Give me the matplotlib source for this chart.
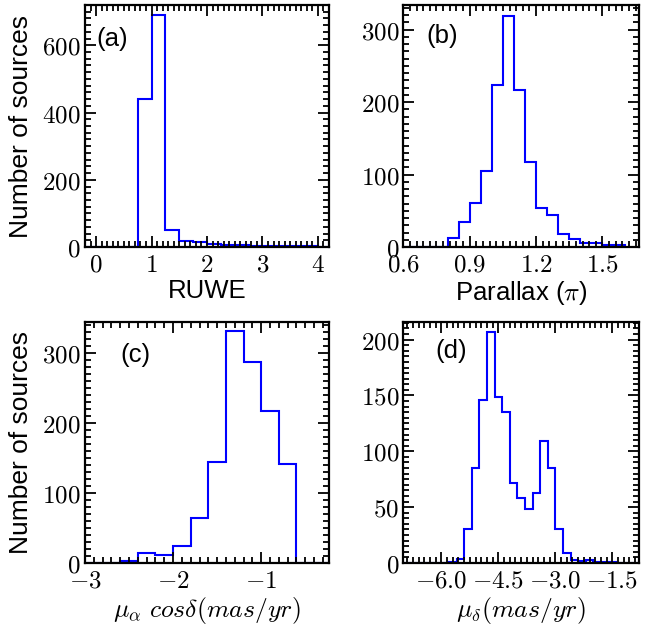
import numpy as np
import matplotlib.pyplot as plt
from matplotlib.ticker import MultipleLocator, FuncFormatter

plt.rcParams['font.family'] = ['Liberation Sans', 'DejaVu Sans']
plt.rcParams['mathtext.fontset'] = 'cm'

# -------------------------------------------------------
# histogram counts (bin start, bin width, counts per bin)
# -------------------------------------------------------
ruwe_start, ruwe_width = -0.25, 0.25
ruwe_counts = [0, 0, 0, 0, 440, 690, 50, 17, 15, 10, 7, 5, 4, 3, 3, 2, 2, 1, 1]

plx_start, plx_width = 0.6, 0.05
plx_counts = [0, 0, 0, 0, 13, 35, 61, 105, 224, 319, 216, 117, 54, 44,
              18, 11, 6, 6, 3, 3]

pmra_start, pmra_width = -3.0, 0.2
pmra_counts = [0, 0, 3, 15, 11, 24, 64, 145, 331, 288, 217, 141, 0, 0, 0]

pmde_start, pmde_width = -7.0, 0.2
pmde_counts = [0, 0, 0, 0, 0, 0, 1, 4, 30, 85, 146, 207, 149, 135, 72, 58,
               48, 63, 109, 85, 30, 9, 3, 2, 3, 1, 1, 1, 0, 0, 0, 0]

panels = [
    # tag, start, width, counts, xlim, ylim, xmaj, xmin, ymaj, ymin, x decimals,
    # xlabel, axes rect in pixels (left, top, right, bottom), tag position
    ("(a)", ruwe_start, ruwe_width, ruwe_counts, (-0.2, 4.2), (0, 720),
     1, 0.1, 200, 20, 0, "RUWE", [85, 5, 329, 247], (0.048, 0.86)),
    ("(b)", plx_start, plx_width, plx_counts, (0.6, 1.665), (0, 334),
     0.3, 0.03, 100, 10, 1, r"Parallax ($\pi$)", [403.3, 5, 639, 247], (0.096, 0.87)),
    ("(c)", pmra_start, pmra_width, pmra_counts, (-3.0, -0.23), (0, 345),
     1, 0.1, 100, 10, 0, r"$\mu_{\alpha}\ cos\delta(mas/yr)$", [85, 321.7, 329, 563], (0.147, 0.86)),
    ("(d)", pmde_start, pmde_width, pmde_counts, (-7.0, -0.8), (0, 216),
     1.5, 0.15, 50, 5, 1, r"$\mu_{\delta}(mas/yr)$", [403.3, 321.7, 639, 563], (0.134, 0.88)),
]


def cm_fmt(decimals):
    return FuncFormatter(lambda v, pos: r"$%.*f$" % (decimals, v))


W, H = 647, 627
fig = plt.figure(figsize=(W / 100, H / 100), dpi=100)

for i, (tag, start, width, counts, xlim, ylim, xmaj, xmin, ymaj, ymin, xdec,
        xlabel, (x0, y0, x1, y1), tagpos) in enumerate(panels):
    ax = fig.add_axes([x0 / W, 1 - y1 / H, (x1 - x0) / W, (y1 - y0) / H])
    edges = start + width * np.arange(len(counts) + 1)
    ax.stairs(counts, edges, color="blue", linewidth=1.5, baseline=0)

    ax.set_xlim(*xlim)
    ax.set_ylim(*ylim)
    ax.xaxis.set_major_locator(MultipleLocator(xmaj))
    ax.xaxis.set_minor_locator(MultipleLocator(xmin))
    ax.yaxis.set_major_locator(MultipleLocator(ymaj))
    ax.yaxis.set_minor_locator(MultipleLocator(ymin))
    ax.xaxis.set_major_formatter(cm_fmt(xdec))
    ax.yaxis.set_major_formatter(cm_fmt(0))
    ax.tick_params(which="both", direction="in", top=True, right=True,
                   labelsize=18, width=1.3)
    ax.tick_params(which="major", length=8)
    ax.tick_params(axis="x", which="major", pad=4)
    ax.tick_params(axis="y", which="major", pad=3)
    ax.tick_params(which="minor", length=4)
    for sp in ax.spines.values():
        sp.set_linewidth(1.6)

    ax.set_xlabel(xlabel, fontsize=18.5, labelpad=2)
    if i % 2 == 0:
        ax.set_ylabel("Number of sources", fontsize=19, labelpad=7)
    ax.text(tagpos[0], tagpos[1], tag, transform=ax.transAxes,
            fontsize=18.5, ha="left", va="center")

fig.savefig("out.png", dpi=100)
